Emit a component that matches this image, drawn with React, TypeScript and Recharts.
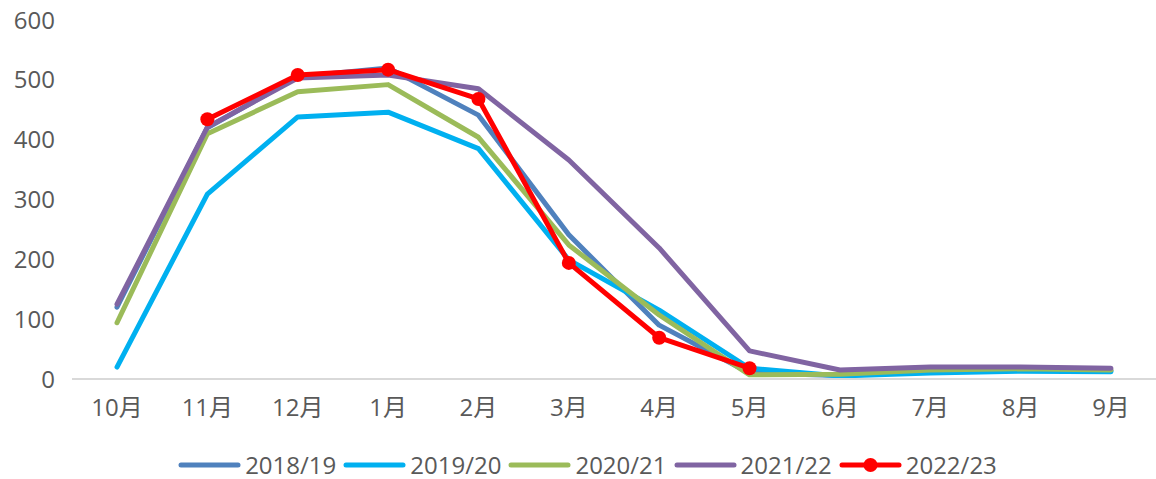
import React from 'react';
import { LineChart, Line, XAxis, YAxis, Legend } from 'recharts';

const MONTHS = ['10月', '11月', '12月', '1月', '2月', '3月', '4月', '5月', '6月', '7月', '8月', '9月'];

const S2018 = [120, 420, 505, 520, 441, 241, 90, 10, 6, 12, 15, 14];
const S2019 = [20, 309, 438, 446, 385, 199, 115, 18, 5, 10, 13, 12];
const S2020 = [94, 410, 480, 492, 404, 224, 107, 7, 8, 15, 17, 15];
const S2021 = [125, 421, 503, 508, 485, 366, 219, 47, 15, 20, 20, 18];
const S2022: (number | null)[] = [null, 434, 508, 517, 468, 194, 69, 18, null, null, null, null];

const SERIES = [
    { key: 's2018', name: '2018/19', color: '#4F81BD', values: S2018, dots: false },
    { key: 's2019', name: '2019/20', color: '#00B0F0', values: S2019, dots: false },
    { key: 's2020', name: '2020/21', color: '#9BBB59', values: S2020, dots: false },
    { key: 's2021', name: '2021/22', color: '#8064A2', values: S2021, dots: false },
    { key: 's2022', name: '2022/23', color: '#FF0000', values: S2022, dots: true },
];

const data = MONTHS.map((m, i) => {
    const row: Record<string, string | number | null> = { month: m };
    SERIES.forEach((s) => { row[s.key] = s.values[i]; });
    return row;
});

const FONT = '"Open Sans", "Noto Sans CJK SC", sans-serif';
const TEXT = '#595959';

// legend drawn by hand so the long line icons match
const LegendRow = () => (
    <div style={{ display: 'flex', justifyContent: 'center', alignItems: 'center', height: 30, paddingLeft: 26, fontFamily: FONT, fontSize: 24, color: TEXT, transform: 'translateY(1px)' }}>
        {SERIES.map((s) => (
            <div key={s.key} style={{ display: 'flex', alignItems: 'center', marginRight: 7 }}>
                <svg width={63} height={16} style={{ marginRight: 4 }}>
                    <line x1={3} y1={8} x2={60} y2={8} stroke={s.color} strokeWidth={5} strokeLinecap="round" />
                    {s.dots && <circle cx={31.5} cy={8} r={7} fill={s.color} />}
                </svg>
                <span style={{ lineHeight: '30px', whiteSpace: 'nowrap' }}>{s.name}</span>
            </div>
        ))}
    </div>
);

export default function App() {
    return (
        <div style={{ position: 'absolute', left: 0, top: 0, background: '#fff' }}>
            <LineChart width={1156} height={479} data={data} margin={{ top: 20, right: 0, left: 0, bottom: 0 }}>
                <XAxis
                    dataKey="month"
                    axisLine={{ stroke: '#D9D9D9', strokeWidth: 2 }}
                    tickLine={false}
                    tick={{ fill: TEXT, fontSize: 24, fontFamily: FONT }}
                    tickMargin={14}
                    height={70}
                    padding={{ left: 45, right: 45 }}
                    interval={0}
                />
                <YAxis
                    domain={[0, 600]}
                    ticks={[0, 100, 200, 300, 400, 500, 600]}
                    axisLine={false}
                    tickLine={false}
                    tick={{ fill: TEXT, fontSize: 24, fontFamily: FONT }}
                    width={72}
                    tickMargin={11}
                />
                <Legend verticalAlign="bottom" height={30} content={() => <LegendRow />} />
                {SERIES.map((s) => (
                    <Line
                        key={s.key}
                        dataKey={s.key}
                        name={s.name}
                        stroke={s.color}
                        strokeWidth={5}
                        strokeLinecap="round"
                        strokeLinejoin="round"
                        dot={s.dots ? { r: 7, fill: s.color, stroke: s.color, strokeWidth: 0 } : false}
                        activeDot={false}
                        isAnimationActive={false}
                    />
                ))}
            </LineChart>
        </div>
    );
}
